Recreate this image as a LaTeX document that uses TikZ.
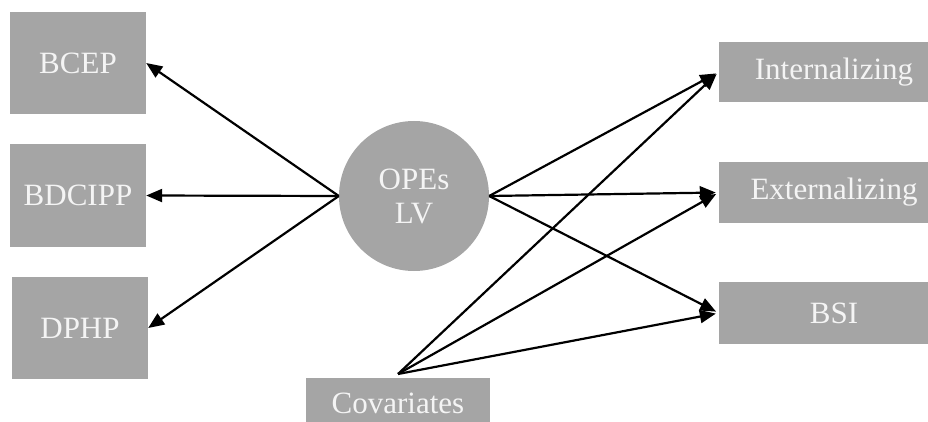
\documentclass[tikz,border=0pt]{standalone}
\usepackage{fontspec}
\setmainfont{Liberation Serif}
\usetikzlibrary{arrows.meta}
\definecolor{boxgray}{HTML}{A5A5A5}
\definecolor{txt}{HTML}{F4F4F4}
\begin{document}
\begin{tikzpicture}[x=1pt,y=-1pt,
  var/.style={fill=boxgray,draw=none,text=txt,inner sep=0pt,font=\fontsize{31}{34}\selectfont},
  lvnode/.style={circle,fill=boxgray,draw=none,text=txt,inner sep=0pt,minimum size=150pt,align=center,font=\fontsize{31}{34}\selectfont},
  path/.style={line width=2.2pt,-{Triangle[length=16pt,width=13pt]}}]
\useasboundingbox (0,0) rectangle (928,422);
\node[var,minimum width=136pt,minimum height=102pt] (bcep) at (78,63) {BCEP};
\node[var,minimum width=136pt,minimum height=103pt] (bdcipp) at (78,195.5) {BDCIPP};
\node[var,minimum width=136pt,minimum height=102pt] (dphp) at (80,328) {DPHP};
\node[lvnode] (lv) at (414,196) {OPEs\\LV};
\node[var,minimum width=230pt,minimum height=60pt] (int) at (834,72) {Internalizing};
\node[var,minimum width=230pt,minimum height=61pt] (ext) at (834,192.5) {Externalizing};
\node[var,minimum width=230pt,minimum height=62pt] (bsi) at (834,313) {BSI};
\node[var,minimum width=184pt,minimum height=50pt] (cov) at (398,403) {Covariates};
\coordinate (covtop) at (398,374);
\draw[path] (lv.west) -- (bcep.east);
\draw[path] (lv.west) -- (bdcipp.east);
\draw[path] (lv.west) -- (dphp.east);
\draw[path,shorten >=3pt] (lv.east) -- (int.west);
\draw[path,shorten >=3pt] (lv.east) -- (ext.west);
\draw[path,shorten >=3pt] (lv.east) -- (bsi.west);
\draw[path,shorten >=3pt] (covtop) -- (int.west);
\draw[path,shorten >=3pt] (covtop) -- (ext.west);
\draw[path,shorten >=3pt] (covtop) -- (bsi.west);
\end{tikzpicture}
\end{document}
